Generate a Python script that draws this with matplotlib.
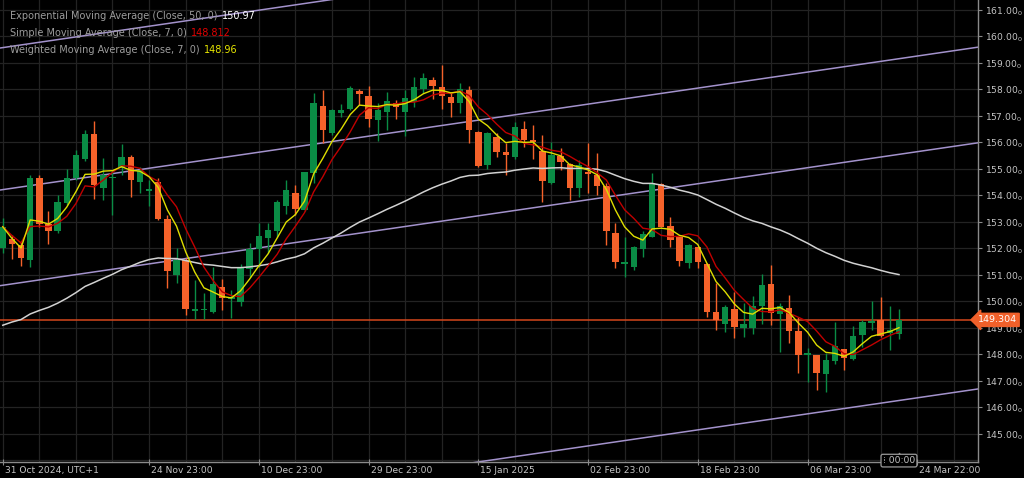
import numpy as np
import pandas as pd
import matplotlib
matplotlib.use("Agg")
import matplotlib.pyplot as plt
import matplotlib.transforms as mtransforms

# Velas diarias (indice 0 = vela del 31 Oct 2024 23:00)
opens = [152.01, 152.36, 152.12, 151.57, 154.64, 152.93, 152.64, 153.70, 154.67, 155.36,
         156.31, 154.30, 154.64, 155.03, 155.44, 154.52, 154.18, 154.52, 153.10, 150.98,
         151.57, 149.64, 149.66, 149.62, 150.56, 150.09, 149.96, 151.21, 151.97, 152.41,
         152.64, 153.62, 154.11, 153.45, 154.84, 157.39, 156.35, 157.10, 157.25, 157.96,
         157.76, 156.85, 157.16, 157.50, 157.16, 157.54, 158.02, 158.36, 158.08, 157.73,
         157.48, 157.98, 156.41, 155.15, 156.22, 155.63, 155.47, 156.50, 156.07, 155.68,
         154.48, 155.50, 155.18, 154.27, 154.87, 154.77, 154.36, 152.60, 151.42, 151.29,
         151.98, 152.45, 154.43, 152.85, 152.45, 151.44, 152.04, 151.42, 149.62, 149.15,
         149.70, 148.99, 149.01, 149.81, 150.66, 149.53, 149.77, 148.90, 147.98, 147.96,
         147.25, 147.77, 148.19, 147.82, 148.74, 149.18, 149.30, 148.80, 148.77]
highs = [153.14, 152.51, 152.26, 154.77, 154.77, 153.43, 154.02, 154.99, 155.72, 156.47,
         156.81, 155.40, 154.96, 155.93, 155.53, 155.09, 154.58, 154.65, 153.26, 152.01,
         151.63, 150.81, 150.30, 151.31, 150.84, 150.43, 151.42, 152.22, 152.95, 152.95,
         153.83, 154.58, 154.40, 154.90, 157.86, 157.98, 157.25, 157.45, 158.13, 158.00,
         158.13, 157.48, 157.92, 157.60, 157.98, 158.48, 158.61, 158.48, 158.92, 157.92,
         158.26, 158.13, 156.45, 156.41, 156.35, 155.97, 156.79, 156.81, 156.66, 156.28,
         156.03, 155.78, 155.21, 155.34, 155.98, 155.60, 154.46, 152.95, 152.45, 152.09,
         152.66, 154.84, 154.46, 153.20, 152.47, 152.17, 152.07, 151.44, 150.69, 149.87,
         150.37, 149.93, 150.21, 151.04, 151.38, 149.93, 150.25, 149.43, 148.23, 147.98,
         148.04, 149.24, 148.22, 149.08, 149.30, 150.00, 150.18, 149.81, 149.70]
lows = [151.82, 151.59, 151.35, 151.31, 152.82, 152.17, 152.57, 153.64, 154.58, 155.31,
        153.87, 153.83, 153.26, 154.77, 153.93, 154.11, 153.60, 153.08, 150.50, 150.69,
        149.49, 149.35, 149.35, 149.55, 149.68, 149.39, 149.81, 150.92, 151.31, 151.82,
        152.45, 153.30, 153.26, 153.43, 154.48, 155.99, 156.28, 156.95, 157.23, 157.41,
        156.60, 156.07, 156.47, 156.87, 156.25, 157.35, 157.86, 157.63, 157.26, 156.95,
        157.13, 155.97, 155.09, 154.99, 155.44, 154.77, 155.36, 155.84, 155.36, 153.77,
        154.43, 154.96, 153.83, 153.93, 154.09, 154.02, 152.13, 151.25, 150.94, 151.19,
        151.69, 152.42, 152.80, 152.04, 151.34, 151.25, 151.25, 149.43, 148.92, 148.86,
        148.61, 148.64, 148.77, 149.15, 149.11, 148.11, 148.42, 147.31, 146.97, 146.66,
        146.57, 147.64, 147.42, 147.79, 148.27, 148.92, 148.67, 148.17, 148.58]
closes = [152.82, 152.16, 151.65, 154.67, 152.93, 152.64, 153.77, 154.67, 155.53, 156.32,
          154.40, 154.77, 154.66, 155.47, 154.58, 154.96, 154.19, 153.11, 151.13, 151.57,
          149.70, 149.67, 149.68, 150.66, 150.12, 150.14, 151.29, 151.97, 152.48, 152.70,
          153.74, 154.21, 153.48, 154.87, 157.48, 156.47, 157.23, 157.23, 158.07, 157.82,
          156.89, 157.23, 157.57, 157.35, 157.69, 158.11, 158.42, 158.14, 157.77, 157.48,
          158.02, 156.47, 155.11, 156.37, 155.65, 155.53, 156.57, 156.09, 156.02, 154.55,
          155.53, 155.28, 154.30, 155.15, 154.82, 154.36, 152.64, 151.47, 151.47, 152.04,
          152.55, 154.46, 152.82, 152.32, 151.54, 152.13, 151.50, 149.62, 149.30, 149.78,
          149.05, 149.15, 149.81, 150.62, 149.55, 149.81, 148.90, 147.98, 148.03, 147.29,
          147.79, 148.32, 147.86, 148.70, 149.24, 149.28, 148.70, 148.92, 149.30]

ema_seed = 148.95          # valor de la EMA 50 justo antes de la primera vela
precio_actual = 149.304

# Canal de tendencia: (indice, precio) al inicio y al final
canal = [
    [(0, 159.58), (106.7, 164.96)],
    [(0, 154.22), (106.7, 159.60)],
    [(0, 150.61), (106.7, 155.99)],
    [(0, 141.32), (106.7, 146.70)],
]

xtick_pos = [0, 16, 28, 40, 52, 64, 76, 88, 100]
xtick_labels = ["31 Oct 2024, UTC+1", "24 Nov 23:00", "10 Dec 23:00", "29 Dec 23:00",
                "15 Jan 2025", "02 Feb 23:00", "18 Feb 23:00", "06 Mar 23:00", "24 Mar 22:00"]

leyenda = [
    ("Exponential Moving Average (Close, 50, 0)", "150.97", "#ffffff"),
    ("Simple Moving Average (Close, 7, 0)", "148.812", "#e00000"),
    ("Weighted Moving Average (Close, 7, 0)", "148.96", "#e6e600"),
]

# Colores
fondo = "#000000"
verde = "#0a8c45"
naranja = "#f5622a"
rejilla = "#232323"
gris_txt = "#c4c4c4"

df = pd.DataFrame({"open": opens, "high": highs, "low": lows, "close": closes})
idx = np.arange(len(df))

# Indicadores
sma7 = df["close"].rolling(7, min_periods=1).mean()


def wma(w):
    pesos = np.arange(1, len(w) + 1)
    return np.dot(w, pesos) / pesos.sum()


wma7 = df["close"].rolling(7, min_periods=1).apply(wma, raw=True)
ema50 = pd.Series([ema_seed] + closes).ewm(span=50, adjust=False).mean().iloc[1:].values

fig = plt.figure(figsize=(10.24, 4.78), dpi=100, facecolor=fondo)
ax = fig.add_axes([0, 16 / 478, 978 / 1024, 462 / 478])
ax.set_facecolor(fondo)

ax.set_xlim(-0.3, 106.64)
ax.set_ylim(143.94, 161.377)

# Rejilla
for p in range(144, 162):
    ax.axhline(p, color=rejilla, lw=0.9, zorder=0)
for i in range(0, 108, 4):
    ax.axvline(i, color=rejilla, lw=0.9, zorder=0)

# Canal
for (x0, y0), (x1, y1) in canal:
    ax.plot([x0 - 1, x1], [y0 - 0.0504, y1], color="#a392cc", lw=1.1, zorder=1)

# Precio actual
ax.axhline(precio_actual, color="#d4471c", lw=1.1, zorder=2)

# Velas
sube = df["close"] >= df["open"]
colores = np.where(sube, verde, naranja)
ax.vlines(idx, df["low"], df["high"], colors=colores, lw=1.0, zorder=3)
cuerpo = (df["close"] - df["open"]).abs().clip(lower=0.06)
base = df[["open", "close"]].min(axis=1)
ax.bar(idx, cuerpo, bottom=base, width=0.7, color=colores, linewidth=0, zorder=4)

# Medias moviles
ax.plot(idx, ema50, color="#d2d2d2", lw=1.1, zorder=5)
ax.plot(idx, sma7, color="#c00000", lw=1.0, zorder=6)
ax.plot(idx, wma7, color="#dede00", lw=1.0, zorder=7)

# Ejes
for s in ["top", "left"]:
    ax.spines[s].set_visible(False)
for s in ["right", "bottom"]:
    ax.spines[s].set_color("#8a8a8a")
    ax.spines[s].set_linewidth(1.0)

ax.yaxis.tick_right()
ax.set_yticks(range(145, 162))
ax.set_yticklabels([f"{p}.00$_0$" for p in range(145, 162)])
ax.tick_params(axis="y", colors="#8a8a8a", labelcolor=gris_txt, labelsize=6.6,
               length=3, pad=2)

ax.set_xticks(xtick_pos)
ax.set_xticklabels(xtick_labels, ha="left")
ax.tick_params(axis="x", colors="#8a8a8a", labelcolor=gris_txt, labelsize=6.6,
               length=4, direction="inout", pad=1)
offset = mtransforms.ScaledTranslation(2 / 100, 0, fig.dpi_scale_trans)
for lbl in ax.get_xticklabels():
    lbl.set_transform(lbl.get_transform() + offset)

# Etiqueta del precio actual
trans = mtransforms.blended_transform_factory(ax.transAxes, ax.transData)
ax.text(1.0, precio_actual, "149.304", transform=trans, fontsize=6.8,
        color="white", va="center", ha="left", clip_on=False, zorder=10,
        bbox=dict(boxstyle="larrow,pad=0.22", fc="#f0602a", ec="#f0602a"))

# Marca de la vela actual
trans2 = mtransforms.blended_transform_factory(ax.transData, ax.transAxes)
ax.plot([98], [0.016], transform=trans2, marker="^", ms=3.5, mfc=fondo, mec="#9a9a9a",
        mew=0.8, clip_on=False, zorder=9)
ax.text(98, 0.003, "\u205e 00:00", transform=trans2, fontsize=6.6, color=gris_txt,
        ha="center", va="center", clip_on=False, zorder=10,
        bbox=dict(boxstyle="round,pad=0.2,rounding_size=0.2", fc=fondo, ec="#9a9a9a", lw=0.9))

# Leyenda de indicadores
ys = [16, 33, 50]
for (texto, valor, col), yp in zip(leyenda, ys):
    t = fig.text(10 / 1024, 1 - yp / 478, texto, color="#9c9c9c", fontsize=7.0,
                 va="center", ha="left")
    ax.annotate(valor, xy=(1, 0.5), xycoords=t, xytext=(3, 0),
                textcoords="offset points", color=col, fontsize=7.0,
                va="center", ha="left")

fig.savefig("out.png", dpi=100, facecolor=fondo)
